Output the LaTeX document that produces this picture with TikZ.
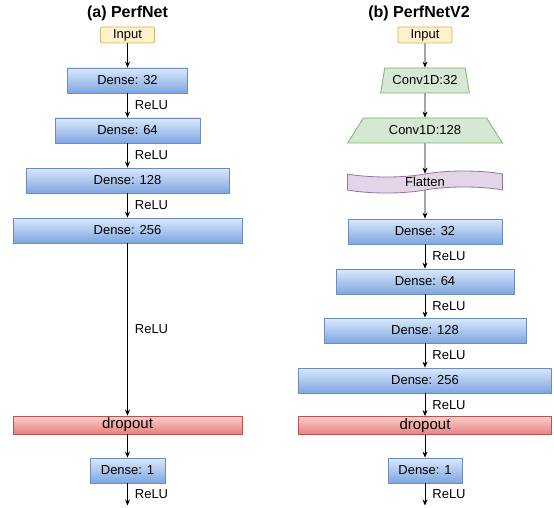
\documentclass[tikz,border=0pt]{standalone}
\usepackage{fontspec}
\setmainfont{Liberation Sans}
\usetikzlibrary{shapes.symbols,shapes.geometric,arrows.meta,positioning}
\usepackage{xcolor}
\definecolor{denseTop}{HTML}{DAE8FC}
\definecolor{denseBot}{HTML}{7EA6E0}
\definecolor{denseLine}{HTML}{6C8EBF}
\definecolor{dropTop}{HTML}{F8CECC}
\definecolor{dropBot}{HTML}{EA7F7D}
\definecolor{dropLine}{HTML}{B85450}
\definecolor{inFill}{HTML}{FFF2CC}
\definecolor{inLine}{HTML}{D6B656}
\definecolor{convFill}{HTML}{D5E8D4}
\definecolor{convLine}{HTML}{82B366}
\definecolor{flatFill}{HTML}{E1D5E7}
\definecolor{flatLine}{HTML}{9673A6}
\newcommand{\labfont}{\fontsize{13}{15}\selectfont}

\begin{document}
\begin{tikzpicture}[
    x=1pt, y=1pt,
    node distance=50pt,
    title/.style={font=\fontsize{16}{18}\selectfont\bfseries, inner sep=0pt},
    inbox/.style={rectangle, rounded corners=2pt, minimum width=54pt, minimum height=16pt, inner sep=0pt, draw=inLine, fill=inFill, line width=0.8pt, font=\labfont},
    dense/.style={rectangle, minimum height=25pt, inner sep=0pt, draw=denseLine, top color=denseTop, bottom color=denseBot, line width=0.8pt, font=\labfont},
    drop/.style={rectangle, minimum height=18pt, inner sep=0pt, draw=dropLine, top color=dropTop, bottom color=dropBot, line width=0.8pt, font=\fontsize{15}{17}\selectfont},
    conv/.style={trapezium, trapezium stretches=true, minimum height=25pt, inner sep=0pt, draw=convLine, fill=convFill, line width=0.8pt, font=\labfont},
    flat/.style={tape, tape bend top=in and out, tape bend bottom=in and out, tape bend height=6pt, minimum width=155pt, minimum height=22pt, inner sep=0pt, draw=flatLine, fill=flatFill, line width=0.8pt, font=\labfont},
    lbl/.style={anchor=west, inner sep=2pt, xshift=5pt, font=\labfont},
    arrow/.style={line width=0.8pt, ->, >={Stealth[length=6pt,width=5pt]}}
]
\useasboundingbox (0,0) rectangle (554,-508);

% Nodes: (a) PerfNet
\node (inA) [inbox] at (127.5,-35) {Input};
\node (titleA) [title, above of=inA, yshift=-28pt] {(a) PerfNet};
\node (d32A) [dense, minimum width=120pt, below of=inA, yshift=4.5pt] {Dense: 32};
\node (d64A) [dense, minimum width=145pt, below of=d32A] {Dense: 64};
\node (d128A) [dense, minimum width=203pt, below of=d64A] {Dense: 128};
\node (d256A) [dense, minimum width=229pt, below of=d128A] {Dense: 256};
\node (dropA) [drop, minimum width=229pt, below of=d256A, yshift=-144.5pt] {dropout};
\node (d1A) [dense, minimum width=75pt, below of=dropA, yshift=4.5pt] {Dense: 1};
\coordinate [below of=d1A, yshift=15pt] (outA);

% Nodes: (b) PerfNetV2
\node (inB) [inbox] at (425,-35) {Input};
\node (titleB) [title, above of=inB, yshift=-28pt, xshift=-6pt] {(b) PerfNetV2};
\node (c32B) [conv, trapezium left angle=70, trapezium right angle=70, minimum width=89pt, below of=inB, yshift=4.5pt] {Conv1D:32};
\node (c128B) [conv, trapezium left angle=45, trapezium right angle=45, minimum width=155pt, below of=c32B] {Conv1D:128};
\node (flatB) [flat, below of=c128B, yshift=-1.5pt] {Flatten};
\node (d32B) [dense, minimum width=154pt, below of=flatB, yshift=0.5pt] {Dense: 32};
\node (d64B) [dense, minimum width=178pt, below of=d32B] {Dense: 64};
\node (d128B) [dense, minimum width=202pt, below of=d64B, yshift=1pt] {Dense: 128};
\node (d256B) [dense, minimum width=253pt, below of=d128B] {Dense: 256};
\node (dropB) [drop, minimum width=253pt, below of=d256B, yshift=5pt] {dropout};
\node (d1B) [dense, minimum width=74pt, below of=dropB, yshift=5pt] {Dense: 1};
\coordinate [below of=d1B, yshift=15pt] (outB);

% Arrows
\draw [arrow] (inA) -- (d32A);
\draw [arrow] (d32A) -- node[lbl] {ReLU} (d64A);
\draw [arrow] (d64A) -- node[lbl] {ReLU} (d128A);
\draw [arrow] (d128A) -- node[lbl] {ReLU} (d256A);
\draw [arrow] (d256A) -- node[lbl] {ReLU} (dropA);
\draw [arrow] (dropA) -- (d1A);
\draw [arrow] (d1A) -- node[lbl] {ReLU} (outA);

\draw [arrow] (inB) -- (c32B);
\draw [arrow] (c32B) -- (c128B);
\draw [arrow] (c128B) -- (flatB);
\draw [arrow] (flatB) -- (d32B);
\draw [arrow] (d32B) -- node[lbl] {ReLU} (d64B);
\draw [arrow] (d64B) -- node[lbl] {ReLU} (d128B);
\draw [arrow] (d128B) -- node[lbl] {ReLU} (d256B);
\draw [arrow] (d256B) -- node[lbl] {ReLU} (dropB);
\draw [arrow] (dropB) -- (d1B);
\draw [arrow] (d1B) -- node[lbl] {ReLU} (outB);

\end{tikzpicture}
\end{document}
